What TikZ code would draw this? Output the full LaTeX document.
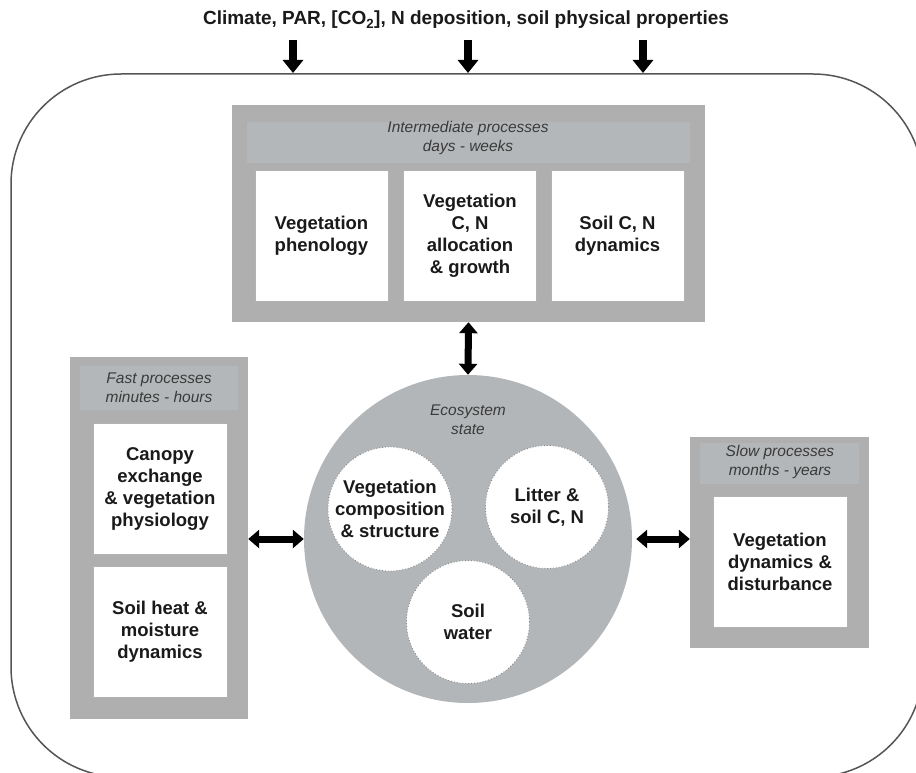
\documentclass[tikz,border=0pt]{standalone}
\usepackage{fontspec}
\setmainfont{Liberation Sans}
\usetikzlibrary{arrows.meta}
\definecolor{boxgray}{HTML}{AFAFAF}
\definecolor{bandgray}{HTML}{B4B7B9}
\definecolor{ecogray}{HTML}{B3B6B8}
\definecolor{framegray}{HTML}{555555}
\definecolor{labelgray}{HTML}{3A3A3A}
\definecolor{textdark}{HTML}{1A1A1A}
\tikzset{
  graybox/.style={fill=boxgray, draw=none, inner sep=0pt},
  band/.style={fill=bandgray, draw=none},
  wbox/.style={fill=white, draw=gray!60, line width=0.8pt, minimum width=133pt,
    minimum height=131pt, align=center, inner sep=0pt, text=textdark,
    font=\bfseries\fontsize{18.5}{22}\selectfont},
  wcirc/.style={circle, fill=white, draw=gray!90, dotted, line width=0.9pt,
    minimum size=123pt, align=center, inner sep=0pt, text=textdark,
    font=\bfseries\fontsize{18.5}{22}\selectfont},
  lbl/.style={font=\itshape\fontsize{15.5}{19}\selectfont, text=labelgray, align=center, inner sep=0pt},
  bigdown/.style={line width=8pt, -{Triangle[length=13pt,width=20pt]}},
  dbl/.style={line width=7pt, {Triangle[length=11pt,width=18pt]}-{Triangle[length=11pt,width=18pt]}},
}
\begin{document}
\begin{tikzpicture}[x=1pt,y=-1pt]
\useasboundingbox (0,0) rectangle (916,773);
\begin{scope}
\clip (0,0) rectangle (916,773);
\draw[framegray, line width=1.5pt, rounded corners=110pt] (11,74) rectangle (923,777);
\end{scope}

% title and input arrows
\node[font=\bfseries\fontsize{19}{22}\selectfont, text=textdark, inner sep=0pt] (title) at (466,20)
  {Climate, PAR, [CO\textsubscript{2}], N deposition, soil physical properties};
\coordinate (t1) at (293,40); \coordinate (f1) at (293,73);
\coordinate (t2) at (468,40); \coordinate (f2) at (468,73);
\coordinate (t3) at (643,40); \coordinate (f3) at (643,73);
\draw[bigdown] (t1) -- (f1);
\draw[bigdown] (t2) -- (f2);
\draw[bigdown] (t3) -- (f3);

% intermediate processes
\node[graybox, minimum width=473pt, minimum height=217pt] (inter) at (468.5,213.5) {};
\fill[band] (247,122) rectangle (690,163);
\node[lbl] (interlbl) at (468,137.5) {Intermediate processes\\days - weeks};
\node[wbox] (phen) at (321.5,236) {Vegetation\\phenology};
\node[wbox] (alloc) at (470,236) {Vegetation\\C, N\\allocation\\\& growth};
\node[wbox] (soilcn) at (617.5,236) {Soil C, N\\dynamics};

% ecosystem state
\node[circle, fill=ecogray, draw=none, minimum size=328pt, inner sep=0pt] (eco) at (468,539) {};
\node[lbl] (ecolbl) at (468,420) {Ecosystem\\state};
\node[wcirc] (vegcomp) at (390,509) {Vegetation\\composition\\\& structure};
\node[wcirc] (litter) at (547,507) {Litter \&\\soil C, N};
\node[wcirc] (water) at (468,622) {Soil\\water};

% fast processes
\node[graybox, minimum width=178pt, minimum height=362pt] (fast) at (159,538) {};
\fill[band] (80,366) rectangle (238,410);
\node[lbl] (fastlbl) at (159,388) {Fast processes\\minutes - hours};
\node[wbox, minimum width=134pt] (canopy) at (160,488.5) {Canopy\\exchange\\\& vegetation\\physiology};
\node[wbox, minimum width=134pt] (soilheat) at (160,631.5) {Soil heat \&\\moisture\\dynamics};

% slow processes
\node[graybox, minimum width=179pt, minimum height=211pt] (slow) at (779.5,542.5) {};
\fill[band] (700,443) rectangle (859,484);
\node[lbl] (slowlbl) at (780,462) {Slow processes\\months - years};
\node[wbox, minimum width=134pt] (vegdyn) at (780,561.5) {Vegetation\\dynamics \&\\disturbance};

% exchanges
\draw[dbl] (inter.south) -- (eco.north);
\draw[dbl] (fast.east |- eco.west) -- (eco.west);
\draw[dbl, shorten <=4pt] (eco.east) -- (slow.west |- eco.east);
\end{tikzpicture}
\end{document}
